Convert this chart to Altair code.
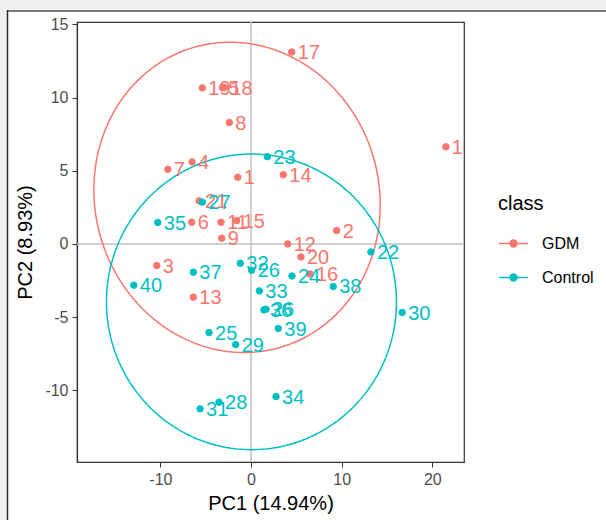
import altair as alt
import numpy as np
import pandas as pd

# ---- data ----
gdm_labels = ["10", "17", "19", "5", "18", "8", "7", "4", "1", "14", "21",
              "6", "11", "15", "9", "3", "13", "2", "12", "20", "16"]
gdm_pc1 = [21.5, 4.49, -5.37, -3.16, -2.94, -2.39, -9.18, -6.5, -1.47, 3.56, -5.73,
           -6.54, -3.31, -1.58, -3.23, -10.4, -6.36, 9.45, 4.05, 5.51, 6.5]
gdm_pc2 = [6.63, 13.11, 10.66, 10.68, 10.68, 8.29, 5.10, 5.60, 4.55, 4.73, 2.94,
           1.48, 1.48, 1.59, 0.39, -1.48, -3.64, 0.91, 0.0, -0.89, -2.05]

ctrl_labels = ["23", "27", "35", "32", "26", "37", "40", "33", "36", "26",
               "39", "25", "29", "34", "28", "31", "24", "38", "22", "30"]
ctrl_pc1 = [1.8, -5.37, -10.29, -1.18, 0.07, -6.36, -12.93, 0.92, 1.43, 1.65,
            3.01, -4.63, -1.69, 2.76, -3.53, -5.62, 4.52, 9.07, 13.23, 16.68]
ctrl_pc2 = [5.96, 2.85, 1.46, -1.32, -1.80, -1.93, -2.82, -3.21, -4.51, -4.46,
            -5.78, -6.06, -6.88, -10.43, -10.81, -11.27, -2.19, -2.91, -0.55, -4.69]

# 95% ellipse parameters
ell_class = ["GDM", "Control"]
ell_cx = [-1.54, 0.05]
ell_cy = [3.18, -3.96]
ell_rx = [15.8, 16.0]
ell_ry = [10.6, 10.1]
ell_cxy = [-8.2, 0.0]

class_names = ["GDM", "Control"]
class_colors = ["#F8766D", "#00BFC4"]
x_ticks = [-10, 0, 10, 20]
y_ticks = [-10, -5, 0, 5, 10, 15]

# ---- tables ----
pts = pd.DataFrame({
    "PC1": gdm_pc1 + ctrl_pc1,
    "PC2": gdm_pc2 + ctrl_pc2,
    "label": gdm_labels + ctrl_labels,
    "class": ["GDM"] * len(gdm_labels) + ["Control"] * len(ctrl_labels),
})

rows = []
t = np.linspace(0, 2 * np.pi, 181)
for k, cls in enumerate(ell_class):
    rx, ry, cxy = ell_rx[k], ell_ry[k], ell_cxy[k]
    l21 = cxy / rx
    l22 = np.sqrt(ry ** 2 - l21 ** 2)
    for i, ti in enumerate(t):
        rows.append({
            "class": cls,
            "order": i,
            "PC1": ell_cx[k] + rx * np.cos(ti),
            "PC2": ell_cy[k] + l21 * np.cos(ti) + l22 * np.sin(ti),
        })
ell = pd.DataFrame(rows)

FONT = "Liberation Sans"
xscale = alt.Scale(domain=[-19.2, 23.5], nice=False, zero=False)
yscale = alt.Scale(domain=[-14.9, 15.16], nice=False, zero=False)
cscale = alt.Scale(domain=class_names, range=class_colors)

legend = alt.Legend(
    title="class", orient="none", legendX=421, legendY=172,
    titleFontSize=20, titleFont=FONT, titleFontWeight="normal", titleColor="black",
    titlePadding=14,
    labelFontSize=16, labelFont=FONT, labelColor="black", labelOffset=13,
    symbolType="M-1,0L1,0M0.24,0A0.24,0.24,0,1,1,-0.24,0A0.24,0.24,0,1,1,0.24,0Z",
    symbolSize=841, symbolStrokeWidth=1.5, rowPadding=10, padding=0,
)

xenc = alt.X("PC1:Q", scale=xscale, title="PC1 (14.94%)",
             axis=alt.Axis(values=x_ticks, grid=False, labelExpr="datum.value + ''"))
yenc = alt.Y("PC2:Q", scale=yscale, title="PC2 (8.93%)",
             axis=alt.Axis(values=y_ticks, grid=False, labelExpr="datum.value + ''"))

one = alt.Data(values=[{"a": 1}])

# decorative screenshot frame (outside the plot area)
top_band = alt.Chart(one).mark_rect(fill="#f0f0f0").encode(
    x=alt.value(-80), x2=alt.value(540), y=alt.value(-25), y2=alt.value(-12))
left_band = alt.Chart(one).mark_rect(fill="#f0f0f0").encode(
    x=alt.value(-80), x2=alt.value(-70), y=alt.value(-25), y2=alt.value(510))
top_line = alt.Chart(one).mark_rule(color="#7a7a7a", strokeWidth=2).encode(
    x=alt.value(-70), x2=alt.value(540), y=alt.value(-11))
left_line = alt.Chart(one).mark_rule(color="#2a2a2a", strokeWidth=1.5).encode(
    x=alt.value(-69.5), y=alt.value(-12), y2=alt.value(510))

zero = pd.DataFrame({"PC1": [0], "PC2": [0]})
vline = alt.Chart(zero).mark_rule(color="#c0c0c0", strokeWidth=1.5).encode(x=xenc)
hline = alt.Chart(zero).mark_rule(color="#c0c0c0", strokeWidth=1.5).encode(y=yenc)

ellipses = alt.Chart(ell).mark_line(strokeWidth=1.5, clip=True).encode(
    x=xenc, y=yenc, order="order:Q",
    stroke=alt.Stroke("class:N", scale=cscale, legend=legend),
    detail="class:N",
)

points = alt.Chart(pts).mark_point(filled=True, size=42, strokeWidth=1, opacity=1).encode(
    x=xenc, y=yenc,
    fill=alt.Fill("class:N", scale=cscale, legend=legend),
    stroke=alt.Stroke("class:N", scale=cscale, legend=legend),
)

labels = alt.Chart(pts).mark_text(
    align="left", baseline="middle", dx=6, dy=1, fontSize=20, font=FONT, clip=True
).encode(
    x=xenc, y=yenc, text="label:N",
    fill=alt.Fill("class:N", scale=cscale, legend=legend),
)

chart = alt.layer(top_band, left_band, top_line, left_line, vline, hline,
                  ellipses, points, labels).properties(
    width=387, height=440,
    background="white",
    padding={"left": 77, "top": 22, "right": 142, "bottom": 58},
    autosize=alt.AutoSizeParams(type="none"),
).configure_view(
    stroke="#333333", strokeWidth=1.2
).configure_axis(
    domainColor="#333333", domainWidth=1.2, tickColor="#333333", tickSize=5, tickWidth=1,
    labelFont=FONT, labelFontSize=16, labelColor="#4d4d4d", labelPadding=4,
    titleFont=FONT, titleFontSize=20, titleFontWeight="normal", titleColor="black",
    zindex=1,
).configure_axisX(titlePadding=6).configure_axisY(titlePadding=9)

chart.save("out.html", embed_options={"renderer": "svg", "actions": False})
